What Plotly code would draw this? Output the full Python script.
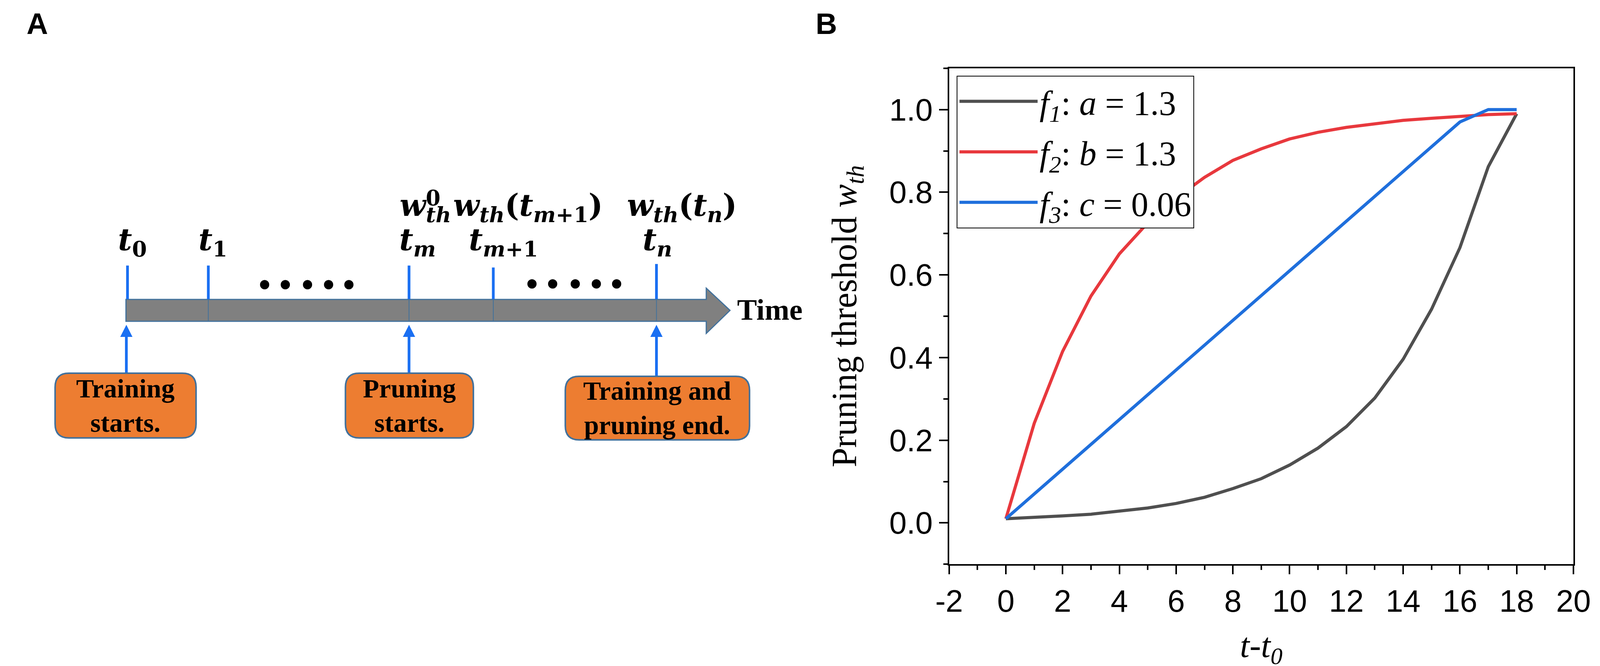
import plotly.graph_objects as go

W, H = 4114, 1706

# ---- panel B data ----
t_steps = [0, 1, 2, 3, 4, 5, 6, 7, 8, 9, 10, 11, 12, 13, 14, 15, 16, 17, 18]
f1_vals = [0.01, 0.013, 0.017, 0.021, 0.028, 0.036, 0.047, 0.062, 0.083, 0.107,
           0.14, 0.181, 0.233, 0.302, 0.396, 0.517, 0.666, 0.862, 0.99]
f2_vals = [0.01, 0.241, 0.415, 0.549, 0.651, 0.726, 0.786, 0.836, 0.877, 0.905,
           0.929, 0.945, 0.957, 0.966, 0.974, 0.979, 0.984, 0.988, 0.99]
f3_vals = [0.01, 0.07, 0.13, 0.19, 0.25, 0.31, 0.37, 0.43, 0.49, 0.55,
           0.61, 0.67, 0.73, 0.79, 0.85, 0.91, 0.97, 1.0, 1.0]
series_names = ['<i>f</i><sub><i>1</i></sub>: <i>a</i> = 1.3',
                '<i>f</i><sub><i>2</i></sub>: <i>b</i> = 1.3',
                '<i>f</i><sub><i>3</i></sub>: <i>c</i> = 0.06']
series_colors = ['#4f4f4f', '#e8383d', '#1f6fdc']
x_tickvals = [-2, 0, 2, 4, 6, 8, 10, 12, 14, 16, 18, 20]
x_ticktext = ['-2', '0', '2', '4', '6', '8', '10', '12', '14', '16', '18', '20']

# ---- panel A labels ----
tick_labels = ['<b><i>t</i><sub>0</sub></b>', '<b><i>t</i><sub>1</sub></b>',
               '<b><i>t</i><sub><i>m</i></sub></b>', '<b><i>t</i><sub><i>m</i>+1</sub></b>',
               '<b><i>t</i><sub><i>n</i></sub></b>']
threshold_labels = ['<b><i>w</i><sub><i>th</i></sub>(<i>t</i><sub><i>m</i>+1</sub>)</b>',
                    '<b><i>w</i><sub><i>th</i></sub>(<i>t</i><sub><i>n</i></sub>)</b>']
box_texts = ['<b>Training<br>starts.</b>', '<b>Pruning<br>starts.</b>',
             '<b>Training and<br>pruning end.</b>']

BLUE = '#1a6ff2'
EDGE = '#41719c'
SERIF = 'Liberation Serif'
MATH = 'DejaVu Serif'


def P(x, y):
    return f'{x / W:.5f},{1 - y / H:.5f}'


def poly(pts):
    return 'M ' + ' L '.join(P(x, y) for x, y in pts) + ' Z'


def rrect(x0, y0, x1, y1, r):
    return ('M ' + P(x0 + r, y0) + ' L ' + P(x1 - r, y0) + ' Q ' + P(x1, y0) + ' ' + P(x1, y0 + r) +
            ' L ' + P(x1, y1 - r) + ' Q ' + P(x1, y1) + ' ' + P(x1 - r, y1) +
            ' L ' + P(x0 + r, y1) + ' Q ' + P(x0, y1) + ' ' + P(x0, y1 - r) +
            ' L ' + P(x0, y0 + r) + ' Q ' + P(x0, y0) + ' ' + P(x0 + r, y0) + ' Z')


def label(text, x, y, size, family, xanchor='center', yanchor='middle'):
    return dict(text=text, x=x / W, y=1 - y / H, xref='paper', yref='paper', showarrow=False,
                xanchor=xanchor, yanchor=yanchor, font=dict(family=family, size=size, color='black'))


fig = go.Figure()
for vals, name, color in zip([f1_vals, f2_vals, f3_vals], series_names, series_colors):
    fig.add_trace(go.Scatter(x=t_steps, y=vals, mode='lines', name=name, legendgroup=name,
                             line=dict(color=color, width=8)))

shapes = []
annotations = []

# time arrow
shapes.append(dict(type='path', xref='paper', yref='paper',
                   path=poly([(284, 760), (1799, 760), (1799, 731), (1861, 788),
                              (1799, 847), (1799, 816), (284, 816)]),
                   fillcolor='#808080', line=dict(color=EDGE, width=3)))
for x in [499, 1023, 1243, 1669]:
    shapes.append(dict(type='line', xref='paper', yref='paper', x0=x / W, x1=x / W,
                       y0=1 - 761 / H, y1=1 - 815 / H, line=dict(color=EDGE, width=2)))
# blue time markers
for x, top in [(288, 673), (499, 673), (1023, 673), (1243, 678), (1669, 669)]:
    shapes.append(dict(type='line', xref='paper', yref='paper', x0=x / W, x1=x / W,
                       y0=1 - top / H, y1=1 - 759 / H, line=dict(color=BLUE, width=7)))
# ellipsis dots
for x, y in [(646, 722), (700, 722), (758, 722), (813, 722), (866, 722),
             (1344, 720), (1398, 720), (1457, 720), (1512, 720), (1565, 720)]:
    shapes.append(dict(type='circle', xref='paper', yref='paper', x0=(x - 12) / W, x1=(x + 12) / W,
                       y0=1 - (y + 12) / H, y1=1 - (y - 12) / H, fillcolor='black', line=dict(width=0)))
# upward arrows and boxes
for x, bottom in [(285, 949), (1023, 949), (1669, 957)]:
    shapes.append(dict(type='line', xref='paper', yref='paper', x0=x / W, x1=x / W,
                       y0=1 - bottom / H, y1=1 - 850 / H, line=dict(color=BLUE, width=7)))
    shapes.append(dict(type='path', xref='paper', yref='paper',
                       path=poly([(x - 16, 856), (x + 16, 856), (x, 825)]),
                       fillcolor=BLUE, line=dict(width=0)))
for (x0, y0, x1, y1), txt in zip([(99, 949, 467, 1115), (857, 949, 1191, 1115), (1431, 957, 1912, 1120)],
                                 box_texts):
    shapes.append(dict(type='path', xref='paper', yref='paper', path=rrect(x0, y0, x1, y1, 36),
                       fillcolor='#ed7d31', line=dict(color=EDGE, width=4)))
    annotations.append(label(txt, (x0 + x1) / 2, (y0 + y1) / 2, 68, SERIF))

# time-point labels
for txt, x in zip(tick_labels, [301, 511, 1045, 1270, 1672]):
    annotations.append(label(txt, x, 612, 78, MATH))
annotations.append(label('<b><i>w</i><sub><i>th</i></sub></b>', 996, 524, 78, MATH, xanchor='left'))
annotations.append(label('<b>0</b>', 1086, 500, 54, MATH))
for txt, x in zip(threshold_labels, [1333, 1736]):
    annotations.append(label(txt, x, 524, 78, MATH))
annotations.append(label('<b>Time</b>', 1878, 786, 76, SERIF, xanchor='left'))

# panel letters
for txt, x in [('<b>A</b>', 22), ('<b>B</b>', 2082)]:
    annotations.append(label(txt, x, 8, 76, 'Liberation Sans', xanchor='left', yanchor='top'))

axis_common = dict(showline=True, linewidth=4, linecolor='black', mirror=True, showgrid=False, zeroline=False,
                   ticks='outside', ticklen=22, tickwidth=4, tickcolor='black',
                   tickfont=dict(family='Liberation Sans', size=80, color='black'))

fig.update_layout(
    width=W, height=H, autosize=False,
    margin=dict(l=0, r=0, t=0, b=0),
    paper_bgcolor='white', plot_bgcolor='white',
    shapes=shapes, annotations=annotations,
    xaxis=dict(domain=[2433 / W, 4063 / W], range=[-2, 20], tickmode='array',
               tickvals=x_tickvals, ticktext=x_ticktext,
               minor=dict(dtick=1, tick0=0, ticks='outside', ticklen=11, tickwidth=4, tickcolor='black',
                          showgrid=False),
               title=dict(text='<i>t</i>-<i>t</i><sub><i>0</i></sub>', standoff=68,
                          font=dict(family=SERIF, size=88, color='black')),
               **axis_common),
    yaxis=dict(domain=[1 - 1439 / H, 1 - 167 / H], range=[-0.1, 1.1], dtick=0.2, tick0=0, tickformat='.1f',
               minor=dict(dtick=0.1, ticks='outside', ticklen=11, tickwidth=4, tickcolor='black', showgrid=False),
               title=dict(text='Pruning threshold <i>w</i><sub><i>th</i></sub>', standoff=55,
                          font=dict(family=SERIF, size=90, color='black')),
               **axis_common),
    legend=dict(x=2453 / W, y=1 - 186 / H, xanchor='left', yanchor='top', bgcolor='white',
                bordercolor='black', borderwidth=2, itemwidth=200, tracegroupgap=12,
                font=dict(family=SERIF, size=88, color='black')),
    showlegend=True,
)

fig.write_html('out.html')
